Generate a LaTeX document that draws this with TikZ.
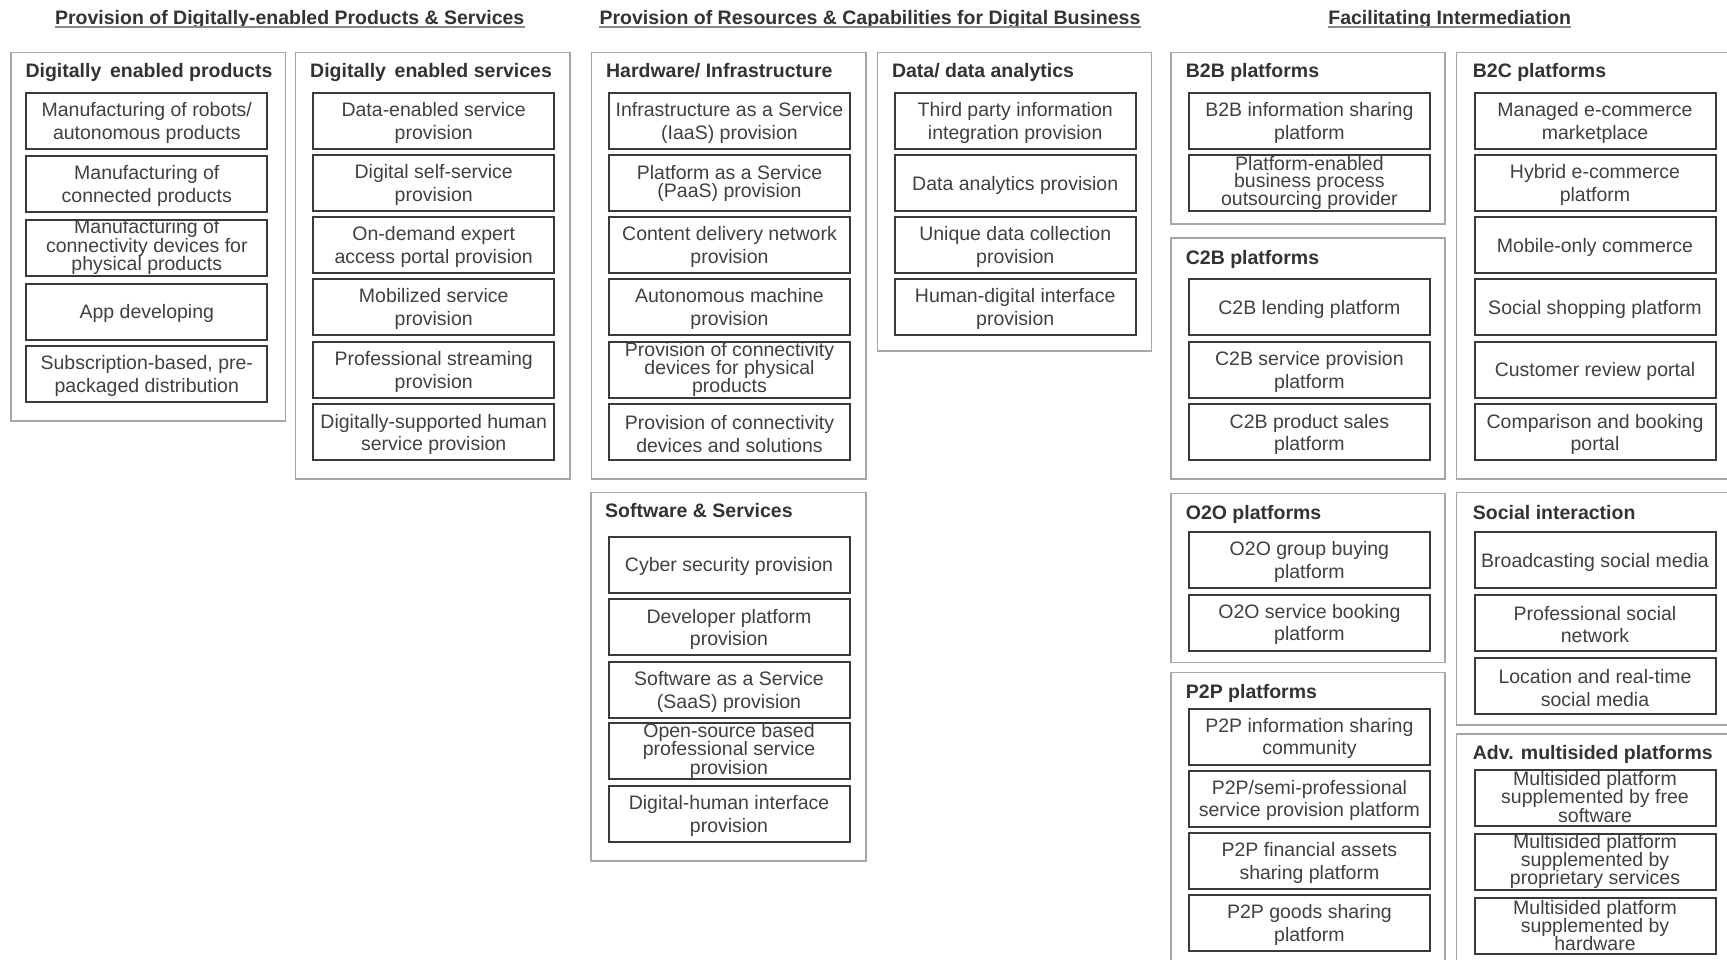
\documentclass[tikz,border=0pt]{standalone}
\usepackage{fontspec}
\setmainfont{Liberation Sans}
\definecolor{obcol}{HTML}{A6A6A6}
\definecolor{ibcol}{HTML}{3A3A3A}
\definecolor{txt}{HTML}{404040}
\definecolor{hdc}{HTML}{333333}
\definecolor{ulc}{HTML}{8C8C8C}
\newcommand\bodyf{\fontsize{19.5}{22.7}\selectfont}
\newcommand\tightf{\fontsize{19.5}{17.2}\selectfont\lineskiplimit=0pt\lineskip=0pt}
\newcommand\semif{\fontsize{19.5}{17.8}\selectfont\lineskiplimit=0pt\lineskip=0pt}
\newcommand\boldf{\fontsize{19.5}{22}\selectfont\bfseries}
% inner box: name, x-left, y-top, text
\newcommand\ibx[4]{\node[ibox,anchor=north west] (#1) at (#2,#3) {};
  \node[itxt] (#1t) at ([yshift=-2pt]#1.center) {#4};}
\newcommand\ibt[4]{\node[ibox,anchor=north west] (#1) at (#2,#3) {};
  \node[itxt,font=\tightf] (#1t) at ([yshift=0.5pt]#1.center) {#4};}
\newcommand\ibs[4]{\node[ibox,anchor=north west] (#1) at (#2,#3) {};
  \node[itxt,font=\semif] (#1t) at ([yshift=0pt]#1.center) {#4};}
% group: name, x1, y1, x2, y2, heading baseline y, heading x, text
\newcommand\grp[8]{\draw[obox] (#2,#3) rectangle (#4,#5);
  \node[head,anchor=base west] (#1) at (#7,#6) {#8};}
\begin{document}
\begin{tikzpicture}[x=1pt,y=-1pt,
  obox/.style={draw=obcol,line width=1.6pt},
  ibox/.style={draw=ibcol,line width=2pt,minimum width=241pt,minimum height=56pt,
    inner sep=0pt},
  itxt/.style={inner sep=0pt,align=center,text=txt,font=\bodyf},
  head/.style={inner sep=0pt,text=hdc,font=\boldf},
  ttl/.style={inner sep=0pt,text=hdc,font=\boldf,anchor=base},
  ul/.style={draw=ulc,line width=1.4pt}]
\useasboundingbox (0,0) rectangle (1727,959);
\fill[white] (0,0) rectangle (1727,959);
\clip (0,0) rectangle (1727,959);

% titles
\node[ttl] (t1) at (289.7,24.3) {Provision of Digitally-enabled Products \& Services};
\node[ttl] (t2) at (870,24.3) {Provision of Resources \& Capabilities for Digital Business};
\node[ttl] (t3) at (1449.7,24.3) {Facilitating Intermediation};
\foreach \t in {t1,t2,t3}{\draw[ul] ([yshift=-2.6pt]\t.base west) -- ([yshift=-2.6pt]\t.base east);}

% column 1
\grp{h1}{10.7}{52.3}{285.5}{420.7}{77.5}{25.3}{Digitally\, enabled products}
\ibx{a1}{25.3}{92}{Manufacturing of robots/\\autonomous products}
\ibx{a2}{25.3}{155}{Manufacturing of\\connected products}
\ibt{a3}{25.3}{218.5}{Manufacturing of\\connectivity devices for\\physical products}
\ibx{a4}{25.3}{282.5}{App developing}
\ibx{a5}{25.3}{344.7}{Subscription-based, pre-\\packaged distribution}

% column 2
\grp{h2}{295.4}{52.3}{570.2}{479}{77.5}{310}{Digitally\, enabled services}
\ibx{b1}{312.2}{92}{Data-enabled service\\provision}
\ibx{b2}{312.2}{154.3}{Digital self-service\\provision}
\ibx{b3}{312.2}{216}{On-demand expert\\access portal provision}
\ibx{b4}{312.2}{278.3}{Mobilized service\\provision}
\ibx{b5}{312.2}{340.7}{Professional streaming\\provision}
\ibx{b6}{312.2}{403.3}{Digitally-supported human\\service provision}

% hardware
\grp{h3}{591.5}{52.3}{866}{479}{77.5}{605.9}{Hardware/ Infrastructure}
\ibx{c1}{608}{92}{Infrastructure as a Service\\(IaaS) provision}
\ibs{c2}{608}{154.3}{Platform as a Service\\(PaaS) provision}
\ibx{c3}{608}{216}{Content delivery network\\provision}
\ibx{c4}{608}{278.3}{Autonomous machine\\provision}
\ibt{c5}{608}{340.7}{Provision of connectivity\\devices for physical\\products}
\ibx{c6}{608}{403.3}{Provision of connectivity\\devices and solutions}

% software
\grp{h4}{591}{492.3}{866}{860.7}{517}{605}{Software \& Services}
\ibx{s1}{607.5}{535.7}{Cyber security provision}
\ibx{s2}{607.5}{598.3}{Developer platform\\provision}
\ibx{s3}{607.5}{661}{Software as a Service\\(SaaS) provision}
\ibt{s4}{607.5}{722.3}{Open-source based\\professional service\\provision}
\ibx{s5}{607.5}{784.7}{Digital-human interface\\provision}

% data
\grp{h5}{877.4}{52.3}{1151.5}{351}{77.5}{891.8}{Data/ data analytics}
\ibx{d1}{893.7}{92}{Third party information\\integration provision}
\ibx{d2}{893.7}{154.3}{Data analytics provision}
\ibx{d3}{893.7}{216}{Unique data collection\\provision}
\ibx{d4}{893.7}{278.3}{Human-digital interface\\provision}

% B2B
\grp{h6}{1171}{52.3}{1445.1}{224}{77.5}{1185.7}{B2B platforms}
\ibx{e1}{1187.9}{92}{B2B information sharing\\platform}
\ibt{e2}{1187.9}{154.3}{Platform-enabled\\business process\\outsourcing provider}

% C2B
\grp{h7}{1171}{238}{1445.1}{479}{264.7}{1185.7}{C2B platforms}
\ibx{f1}{1187.9}{278.3}{C2B lending platform}
\ibx{f2}{1187.9}{340.7}{C2B service provision\\platform}
\ibx{f3}{1187.9}{403.3}{C2B product sales\\platform}

% O2O
\grp{h8}{1171}{493.3}{1445.1}{662.3}{519.3}{1185.7}{O2O platforms}
\ibx{g1}{1187.9}{531}{O2O group buying\\platform}
\ibx{g2}{1187.9}{593.5}{O2O service booking\\platform}

% P2P
\grp{h9}{1171}{672.3}{1445.1}{990}{698}{1185.7}{P2P platforms}
\ibx{p1}{1187.9}{707.5}{P2P information sharing\\community}
\ibx{p2}{1187.9}{769.5}{P2P/semi-professional\\service provision platform}
\ibx{p3}{1187.9}{832}{P2P financial assets\\sharing platform}
\ibx{p4}{1187.9}{894}{P2P goods sharing\\platform}

% B2C
\grp{h10}{1456.5}{52.3}{1740}{479}{77.5}{1472.7}{B2C platforms}
\ibx{k1}{1473.5}{92}{Managed e-commerce\\marketplace}
\ibx{k2}{1473.5}{154.3}{Hybrid e-commerce\\platform}
\ibx{k3}{1473.5}{216}{Mobile-only commerce}
\ibx{k4}{1473.5}{278.3}{Social shopping platform}
\ibx{k5}{1473.5}{340.7}{Customer review portal}
\ibx{k6}{1473.5}{403.3}{Comparison and booking\\portal}

% Social
\grp{h11}{1456.5}{492.3}{1740}{725}{519.3}{1472.7}{Social interaction}
\ibx{m1}{1473.5}{531}{Broadcasting social media}
\ibx{m2}{1473.5}{593.5}{Professional social\\network}
\ibx{m3}{1473.5}{657}{Location and real-time\\social media}

% Adv
\grp{h12}{1456.5}{734}{1740}{990}{759.7}{1472.7}{Adv. multisided platforms}
\ibt{n1}{1473.5}{768.5}{Multisided platform\\supplemented by free\\software}
\ibt{n2}{1473.5}{832.7}{Multisided platform\\supplemented by\\proprietary services}
\ibt{n3}{1473.5}{897}{Multisided platform\\supplemented by\\hardware}
\end{tikzpicture}
\end{document}
